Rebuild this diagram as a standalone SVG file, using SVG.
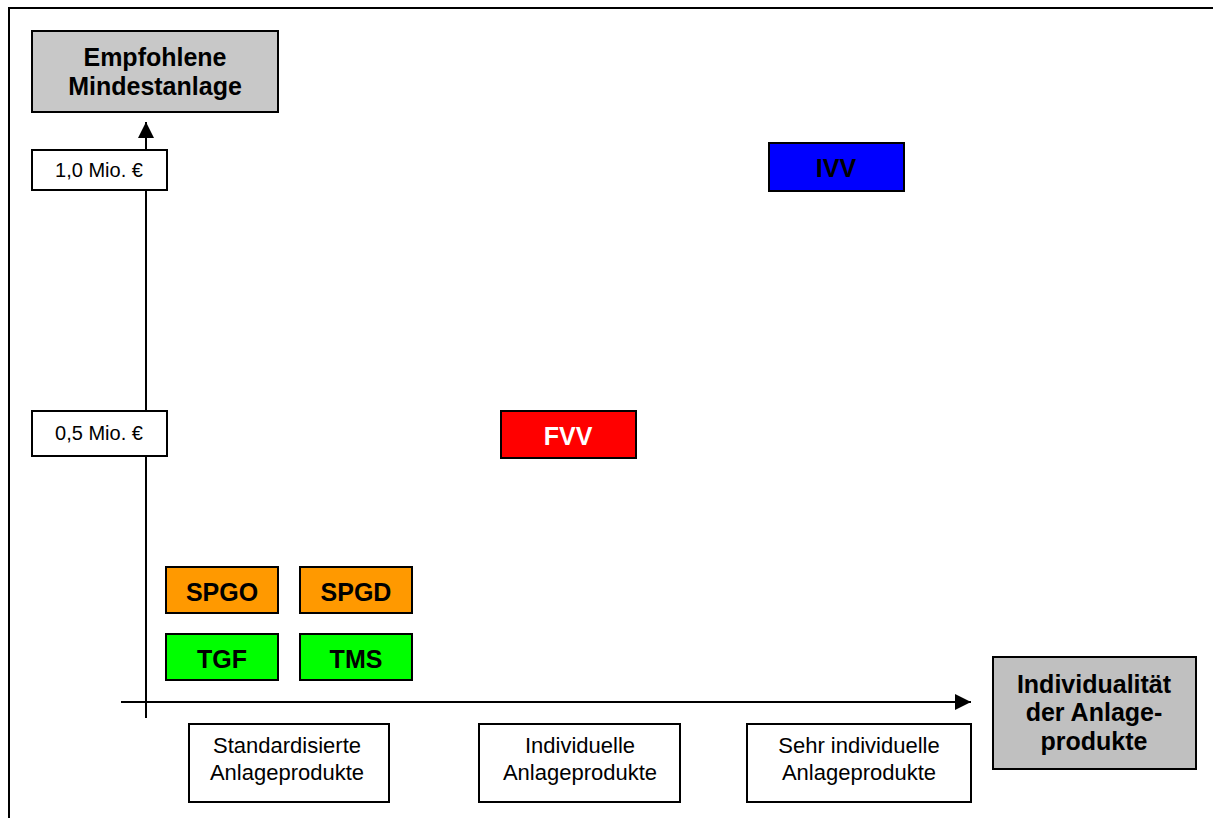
<svg xmlns="http://www.w3.org/2000/svg" width="1213" height="818" viewBox="0 0 1213 818">
<style>
.t{font-family:"Liberation Sans",Arial,sans-serif;fill:#000;text-anchor:middle}
.b{font-weight:bold;font-size:25px}
.s{font-size:20px}
.m{font-size:22px}
.box{stroke:#000;stroke-width:2}
.ax{stroke:#000;stroke-width:2;fill:none}
</style>
<defs>
<marker id="ah" viewBox="0 0 10 10" refX="10" refY="5" markerWidth="16" markerHeight="16" markerUnits="userSpaceOnUse" orient="auto">
<path d="M0,0 L10,5 L0,10 z" fill="#000"/>
</marker>
</defs>
<rect width="1213" height="818" fill="#fff"/>
<path d="M9,818 V8 H1213" class="ax"/>
<g id="connectors">
<line x1="146" y1="718" x2="146" y2="122" class="ax" marker-end="url(#ah)"/>
<line x1="121" y1="702" x2="971" y2="702" class="ax" marker-end="url(#ah)"/>
</g>
<g id="yaxis-title"><rect x="32" y="31" width="246" height="81" fill="#c8c8c8" class="box"/>
<text class="t b" x="155" y="66">Empfohlene</text><text class="t b" x="155" y="95">Mindestanlage</text></g>
<g id="xaxis-title"><rect x="993" y="657" width="203" height="112" fill="#c0c0c0" class="box"/>
<text class="t b" x="1094" y="693">Individualität</text><text class="t b" x="1094" y="721">der Anlage-</text><text class="t b" x="1094" y="750">produkte</text></g>
<g id="y10"><rect x="32" y="150" width="135" height="40" fill="#fff" class="box"/><text class="t s" x="99" y="177">1,0 Mio. €</text></g>
<g id="y05"><rect x="32" y="411" width="135" height="45" fill="#fff" class="box"/><text class="t s" x="99" y="440">0,5 Mio. €</text></g>
<g id="ivv"><rect x="769" y="143" width="135" height="48" fill="#0000ff" class="box"/><text class="t b" x="836" y="177">IVV</text></g>
<g id="fvv"><rect x="501" y="411" width="135" height="47" fill="#ff0000" class="box"/><text class="t b" x="568" y="445" style="fill:#fff">FVV</text></g>
<g id="spgo"><rect x="166" y="567" width="112" height="46" fill="#ff9900" class="box"/><text class="t b" x="222" y="601">SPGO</text></g>
<g id="spgd"><rect x="300" y="567" width="112" height="46" fill="#ff9900" class="box"/><text class="t b" x="356" y="601">SPGD</text></g>
<g id="tgf"><rect x="166" y="634" width="112" height="46" fill="#00ff00" class="box"/><text class="t b" x="222" y="668">TGF</text></g>
<g id="tms"><rect x="300" y="634" width="112" height="46" fill="#00ff00" class="box"/><text class="t b" x="356" y="668">TMS</text></g>
<g id="x1"><rect x="189" y="724" width="200" height="78" fill="#fff" class="box"/><text class="t m" x="287" y="753">Standardisierte</text><text class="t m" x="287" y="780">Anlageprodukte</text></g>
<g id="x2"><rect x="479" y="724" width="201" height="78" fill="#fff" class="box"/><text class="t m" x="580" y="753">Individuelle</text><text class="t m" x="580" y="780">Anlageprodukte</text></g>
<g id="x3"><rect x="747" y="724" width="224" height="78" fill="#fff" class="box"/><text class="t m" x="859" y="753">Sehr individuelle</text><text class="t m" x="859" y="780">Anlageprodukte</text></g>
</svg>
